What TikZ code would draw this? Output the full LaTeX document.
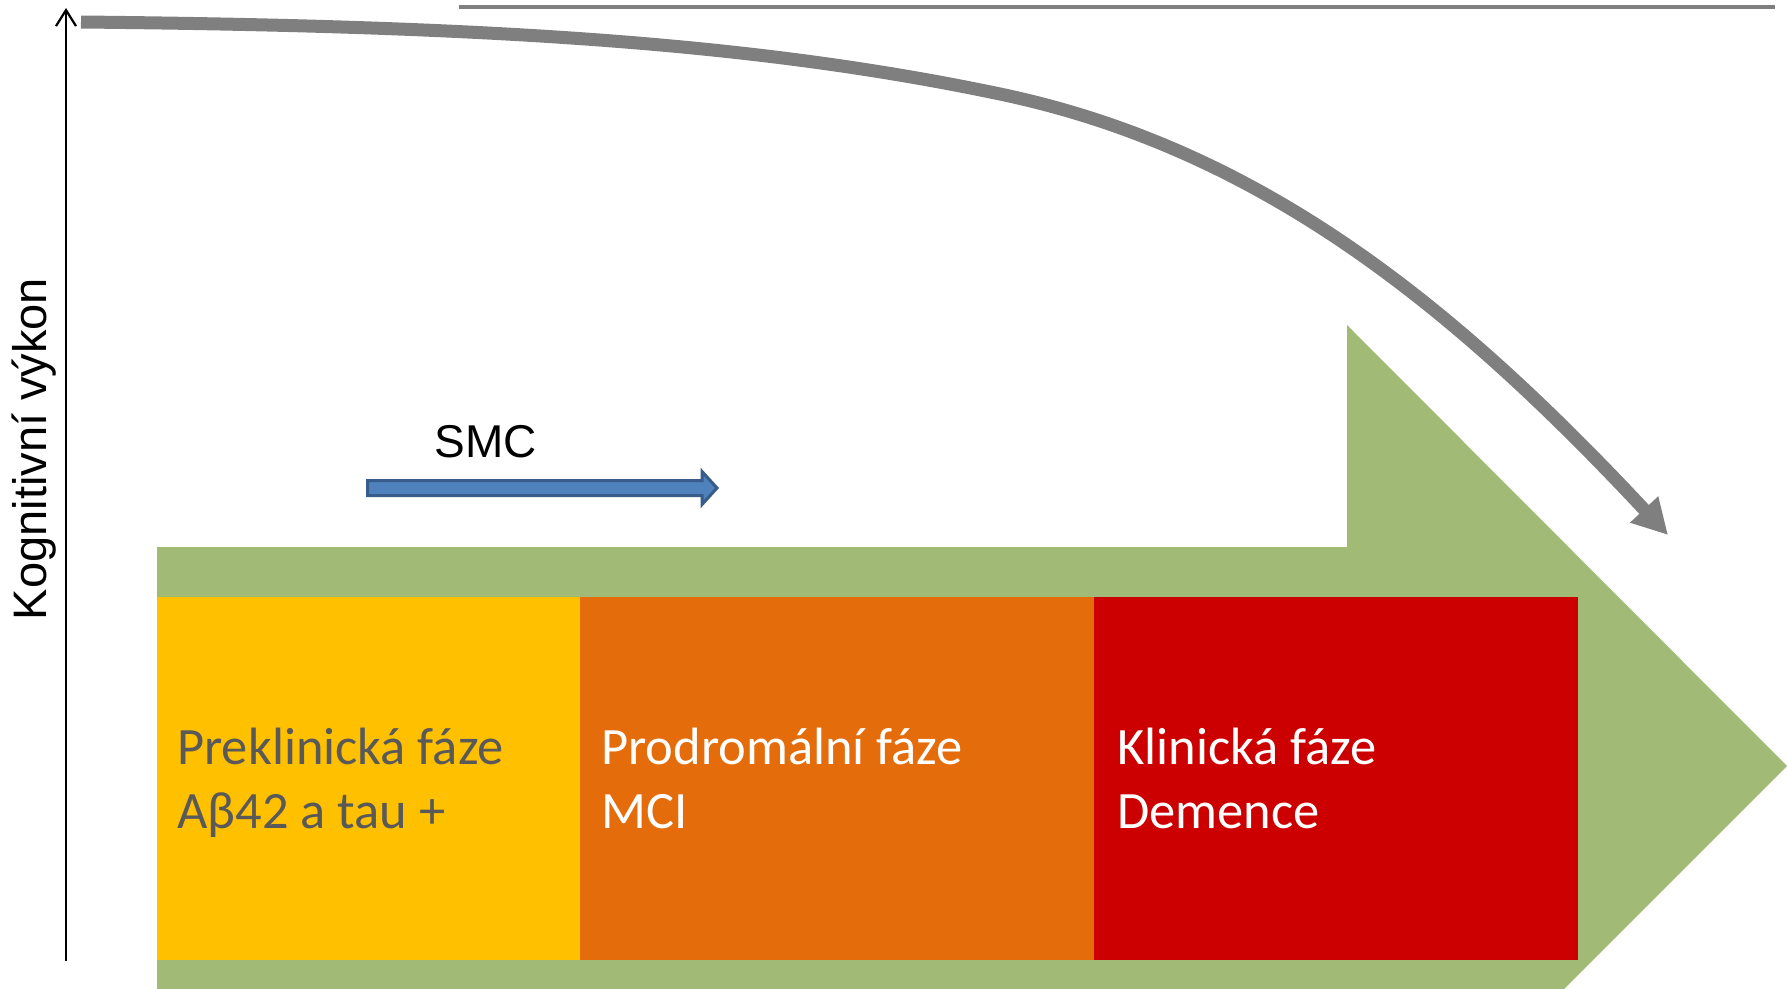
\documentclass[tikz,border=0pt]{standalone}
\usepackage{fontspec}
\setmainfont{Carlito}
\newfontfamily\arialf{Liberation Sans}
\usetikzlibrary{arrows.meta}
\definecolor{bandgreen}{HTML}{A1BA75}
\definecolor{phyellow}{HTML}{FFC000}
\definecolor{phorange}{HTML}{E46C0A}
\definecolor{phred}{HTML}{CC0000}
\definecolor{curvegray}{HTML}{7F7F7F}
\definecolor{textgray}{HTML}{595959}
\definecolor{smcfill}{HTML}{4F81BD}
\definecolor{smcdraw}{HTML}{385D8A}
\tikzset{
  phasetext/.style={anchor=base west, inner sep=0pt, font=\fontsize{52.5}{63}\selectfont},
  declinecurve/.style={draw=curvegray, line width=13pt, -{Triangle[length=35pt,width=36pt]}},
  axisline/.style={draw=black, line width=2.2pt, -{Straight Barb[length=16pt,width=20pt,line width=2.2pt]}},
}
\begin{document}
\begin{tikzpicture}[x=1pt,y=-1pt]
\useasboundingbox (0,0) rectangle (1787,988);
% big green arrow
\begin{scope}
  \clip (0,0) rectangle (1787,988);
  \fill[bandgreen] (157,547) -- (1347,547) -- (1347,325) -- (1787,766) -- (1347,1206) -- (1347,995) -- (157,995) -- cycle;
\end{scope}
% phase boxes
\fill[phyellow] (157,597) rectangle (580,960);
\fill[phorange] (580,597) rectangle (1094,960);
\fill[phred] (1094,597) rectangle (1578,960);
\node[phasetext, text=textgray] (p1a) at (177,764) {Preklinická fáze};
\node[phasetext, text=textgray] (p1b) at (177,828) {Aβ42 a tau +};
\node[phasetext, text=white] (p2a) at (601,764) {Prodromální fáze};
\node[phasetext, text=white] (p2b) at (601,828) {MCI};
\node[phasetext, text=white] (p3a) at (1117,764) {Klinická fáze};
\node[phasetext, text=white] (p3b) at (1117,828) {Demence};
% top thin line
\coordinate (tl1) at (459,7);
\coordinate (tl2) at (1775,7);
\draw[curvegray, line width=3.5pt] (tl1) -- (tl2);
% axis
\coordinate (ax0) at (66,961);
\coordinate (ax1) at (66,8);
\draw[axisline] (ax0) -- (ax1);
\node[rotate=90, anchor=base, inner sep=0pt, font=\arialf\fontsize{47}{56}\selectfont] (ylab) at (46,449) {Kognitivní výkon};
% SMC
\node[anchor=base, inner sep=0pt, font=\arialf\fontsize{46}{55}\selectfont] (smc) at (486,457) {SMC};
\filldraw[fill=smcfill, draw=smcdraw, line width=3pt, line join=miter]
  (367.5,480.5) -- (702,480.5) -- (702,471.5) -- (717,488) -- (702,504.5) -- (702,495.5) -- (367.5,495.5) -- cycle;
% decline curve
\coordinate (c0) at (81,22);
\coordinate (c1) at (1000,94);
\coordinate (c2) at (1668,535);
\draw[declinecurve] (c0) .. controls (481,26) and (750,41.5) .. (c1)
  .. controls (1260,148.6) and (1453,305) .. (c2);
\end{tikzpicture}
\end{document}
